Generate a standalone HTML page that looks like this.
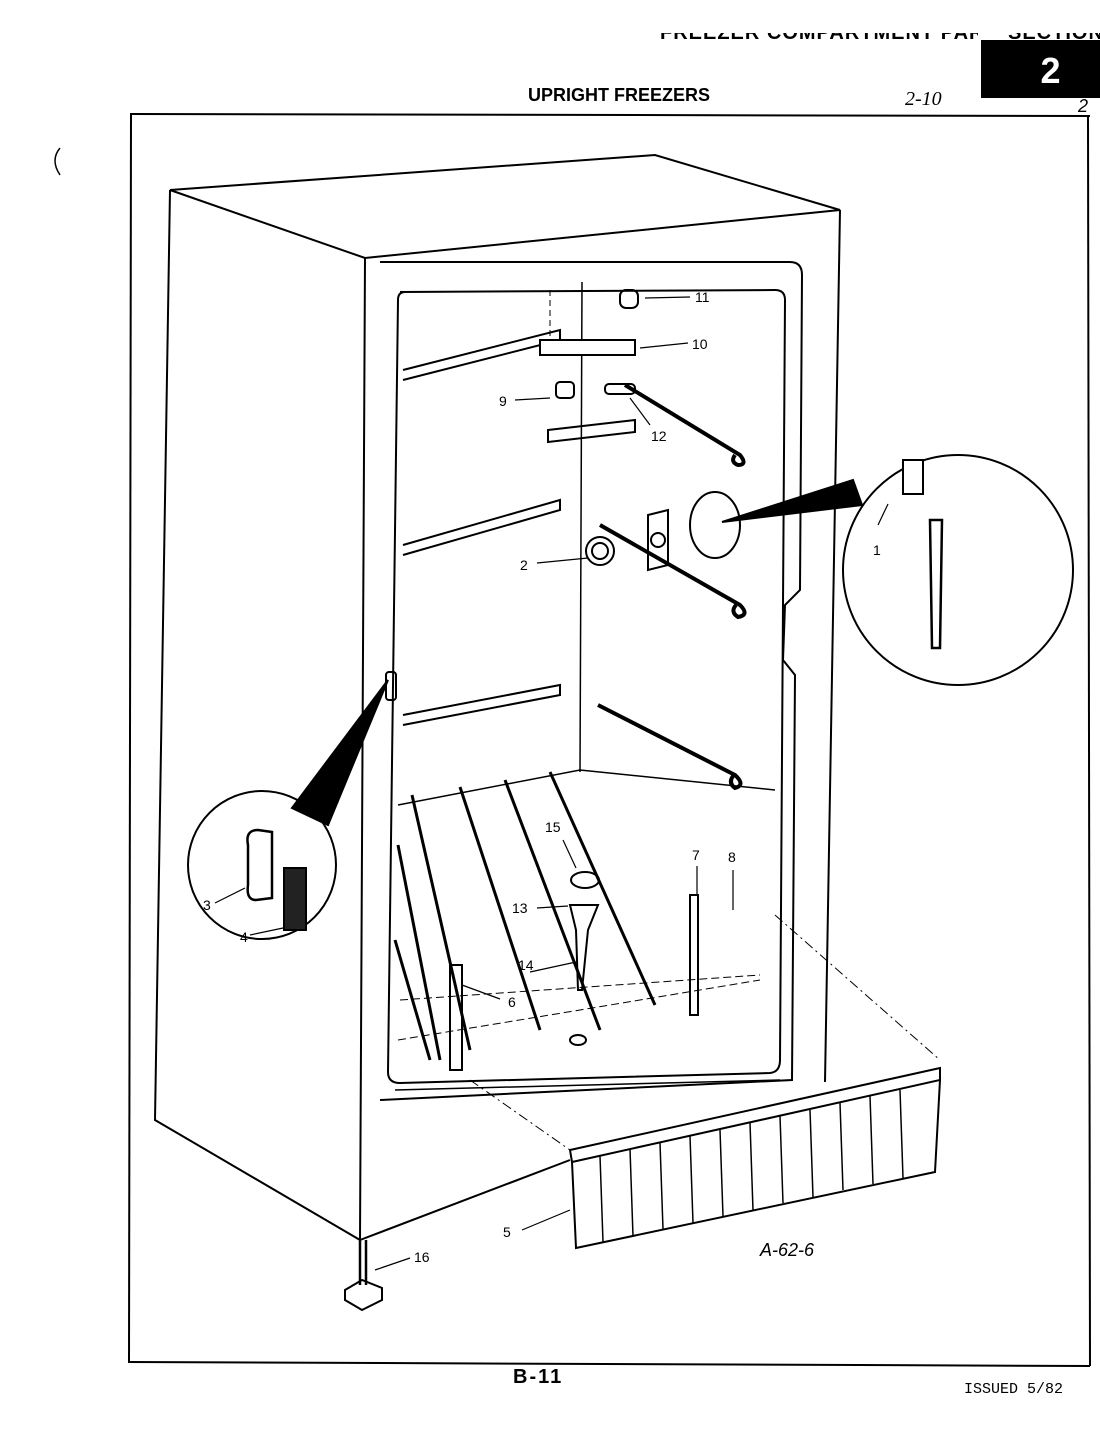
<!DOCTYPE html>
<html><head><meta charset="utf-8"><style>
body{margin:0;background:#fff;width:1100px;height:1440px;overflow:hidden;position:relative;font-family:"Liberation Sans",sans-serif}
.t{position:absolute;white-space:nowrap}
</style></head><body>
<div class="t" style="left:660px;top:33px;height:11px;overflow:hidden;width:318px"><div style="margin-top:-11px;font-weight:bold;font-size:20px;letter-spacing:1px">FREEZER COMPARTMENT PARTS</div></div>
<div class="t" style="left:1008px;top:33px;height:8px;overflow:hidden;width:92px"><div style="margin-top:-11px;font-weight:bold;font-size:20px;letter-spacing:1px">SECTION</div></div>
<div class="t" style="left:981px;top:40px;width:119px;height:58px;background:#000;color:#fff;font-size:36px;font-weight:bold;text-align:center;line-height:62px;padding-left:20px;box-sizing:border-box">2</div>
<div class="t" style="left:528px;top:85px;font-weight:bold;font-size:18px">UPRIGHT FREEZERS</div>
<div class="t" style="left:905px;top:88px;font-style:italic;font-size:20px;font-family:'Liberation Serif',serif">2-10</div>
<div class="t" style="left:1078px;top:96px;font-style:italic;font-size:18px">2</div>
<div class="t" style="left:513px;top:1366px;font-weight:bold;font-size:20px;letter-spacing:2px">B-11</div>
<div class="t" style="left:964px;top:1381px;font-size:15px;font-family:'Liberation Mono',monospace">ISSUED 5/82</div>
<div class="t" style="left:760px;top:1240px;font-style:italic;font-size:18px">A-62-6</div>
<svg width="1100" height="1440" style="position:absolute;left:0;top:0" font-family="Liberation Sans" font-size="14" fill="none" stroke="#000" stroke-width="2">
<line x1="130" y1="114" x2="1090" y2="116"/>
<line x1="131" y1="114" x2="129" y2="1362"/>
<line x1="128" y1="1362" x2="1090" y2="1366"/>
<line x1="1088" y1="116" x2="1090" y2="1366"/>
<path d="M60 148 Q50 160 60 175" stroke-width="1.5"/>
<path d="M170 190 L655 155 L840 210 L365 258 Z"/>
<path d="M170 190 L155 1120 L360 1240 L365 258"/>
<path d="M840 210 L825 1082"/>
<path d="M360 1240 L570 1160"/>
<path d="M380 262 L790 262 Q802 262 802 275 L800 590 L785 605 L783 660 L795 675 L792 1080 L380 1100"/>
<path d="M400 292 L775 290 Q785 290 785 300 L780 1060 Q780 1072 770 1073 L400 1083 Q388 1083 388 1072 L398 300 Q398 292 405 292"/>
<path d="M395 1090 L780 1080" stroke-width="1.5"/>
<line x1="582" y1="282" x2="580" y2="772" stroke-width="1.5"/>
<line x1="550" y1="290" x2="550" y2="340" stroke-dasharray="6,4" stroke-width="1"/>
<path d="M398 805 L580 770 L775 790" stroke-width="1.5"/>
<path d="M403 370 L560 330 L560 340 L403 380"/><path d="M403 545 L560 500 L560 510 L403 555"/><path d="M403 715 L560 685 L560 695 L403 725"/>
<path d="M625 385 L740 455 Q748 465 738 465 Q730 462 735 455" stroke-width="4"/>
<path d="M600 525 L740 605 Q750 615 738 617 Q730 612 736 605" stroke-width="4"/>
<path d="M598 705 L735 775 Q746 785 735 788 Q728 783 733 776" stroke-width="4"/>
<g stroke-width="3"><path d="M412 795 L470 1050"/><path d="M460 787 L540 1030"/><path d="M505 780 L600 1030"/><path d="M550 772 L655 1005"/><path d="M398 845 L440 1060"/><path d="M395 940 L430 1060"/></g>
<path d="M398 1040 L580 1010 L760 980" stroke-dasharray="8,4" stroke-width="1"/>
<path d="M400 1000 L760 975" stroke-dasharray="8,4" stroke-width="1"/>
<rect x="540" y="340" width="95" height="15" fill="#fff"/>
<path d="M548 430 L635 420 L635 432 L548 442 Z"/>
<rect x="556" y="382" width="18" height="16" rx="4"/><rect x="605" y="384" width="30" height="10" rx="4"/>
<rect x="620" y="290" width="18" height="18" rx="6"/>
<circle cx="600" cy="551" r="14"/><circle cx="600" cy="551" r="8"/>
<path d="M648 515 L668 510 L668 565 L648 570 Z"/><circle cx="658" cy="540" r="7"/>
<ellipse cx="715" cy="525" rx="25" ry="33"/>
<ellipse cx="585" cy="880" rx="14" ry="8"/><path d="M570 905 L598 905 L588 930 L582 990 L578 990 L576 930 Z"/>
<ellipse cx="578" cy="1040" rx="8" ry="5"/>
<rect x="690" y="895" width="8" height="120"/><rect x="450" y="965" width="12" height="105"/>
<rect x="386" y="672" width="10" height="28" rx="3"/>
<path d="M570 1150 L940 1068 L940 1080 L572 1162 Z"/>
<path d="M572 1162 L576 1248 L935 1172 L940 1080"/>
<g stroke-width="1.5"><path d="M600 1156 L603 1242"/><path d="M630 1149 L633 1236"/><path d="M660 1143 L663 1229"/><path d="M690 1136 L693 1223"/><path d="M720 1130 L723 1216"/><path d="M750 1123 L753 1210"/><path d="M780 1116 L783 1203"/><path d="M810 1110 L813 1197"/><path d="M840 1103 L843 1190"/><path d="M870 1096 L873 1184"/><path d="M900 1090 L903 1178"/></g>
<path d="M470 1080 L570 1150" stroke-dasharray="10,4,2,4" stroke-width="1"/>
<path d="M775 915 L940 1060" stroke-dasharray="10,4,2,4" stroke-width="1"/>
<circle cx="262" cy="865" r="74"/>
<path d="M388 680 L292 808 L328 825 Z" fill="#000"/>
<path d="M248 845 Q245 830 258 830 L272 832 L272 898 L256 900 Q246 900 248 885 Z" stroke-width="2.5"/>
<rect x="284" y="868" width="22" height="62" fill="#222"/>
<circle cx="958" cy="570" r="115"/>
<path d="M722 522 L853 480 L862 505 Z" fill="#000"/>
<path d="M930 520 L942 520 L940 648 L932 648 Z" stroke-width="2.5"/>
<rect x="903" y="460" width="20" height="34" fill="#fff"/>
<path d="M345 1290 L362 1280 L382 1288 L382 1300 L362 1310 L345 1300 Z" stroke-width="2"/>
<path d="M360 1240 L360 1285 M366 1240 L366 1285" stroke-width="2.5"/>
<g stroke-width="1.2"><path d="M645 298 L690 297"/><path d="M640 348 L688 343"/><path d="M515 400 L550 398"/><path d="M630 398 L650 425"/><path d="M537 563 L588 558"/><path d="M888 504 L878 525"/><path d="M215 903 L245 888"/><path d="M250 935 L283 928"/><path d="M530 972 L576 962"/><path d="M537 908 L568 906"/><path d="M563 840 L576 868"/><path d="M697 866 L697 895"/><path d="M733 870 L733 910"/><path d="M500 999 L462 985"/><path d="M522 1230 L570 1210"/><path d="M410 1258 L375 1270"/></g>
<g fill="#000" stroke="none" font-size="14">
<text x="695" y="302">11</text><text x="692" y="349">10</text><text x="499" y="406">9</text><text x="651" y="441">12</text><text x="520" y="570">2</text><text x="873" y="555">1</text><text x="203" y="910">3</text><text x="240" y="942">4</text><text x="545" y="832">15</text><text x="692" y="860">7</text><text x="728" y="862">8</text><text x="512" y="913">13</text><text x="518" y="970">14</text><text x="508" y="1007">6</text><text x="503" y="1237">5</text><text x="414" y="1262">16</text>
</g>
</svg>
</body></html>
